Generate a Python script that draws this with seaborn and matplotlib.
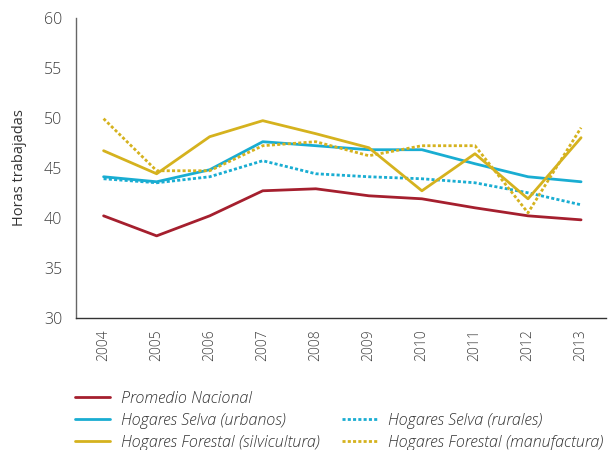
import matplotlib
matplotlib.use("Agg")
import matplotlib.pyplot as plt
from matplotlib.lines import Line2D
import seaborn as sns
import pandas as pd

years = ["2004", "2005", "2006", "2007", "2008", "2009", "2010", "2011", "2012", "2013"]
promedio_nacional = [40.2, 38.2, 40.2, 42.7, 42.9, 42.2, 41.9, 41.0, 40.2, 39.8]
selva_urbanos = [44.1, 43.6, 44.8, 47.6, 47.2, 46.8, 46.8, 45.4, 44.1, 43.6]
selva_rurales = [43.9, 43.5, 44.1, 45.7, 44.4, 44.1, 43.9, 43.5, 42.5, 41.3]
forestal_silvicultura = [46.7, 44.4, 48.1, 49.7, 48.4, 47.0, 42.7, 46.4, 41.9, 48.0]
forestal_manufactura = [49.9, 44.7, 44.7, 47.2, 47.6, 46.2, 47.2, 47.2, 40.5, 49.0]

labels = ["Promedio Nacional", "Hogares Selva (urbanos)", "Hogares Selva (rurales)",
          "Hogares Forestal (silvicultura)", "Hogares Forestal (manufactura)"]
series = [promedio_nacional, selva_urbanos, selva_rurales, forestal_silvicultura, forestal_manufactura]

RED = "#A51F2E"
BLUE = "#19ADD2"
GOLD = "#D5B21E"
colors = [RED, BLUE, BLUE, GOLD, GOLD]
dotted = (0, (1.1, 0.8))
styles = ["-", "-", dotted, "-", dotted]

sns.set_theme(style="white")
plt.rcParams["font.family"] = ["Open Sans", "DejaVu Sans"]
plt.rcParams["font.weight"] = 300

fig = plt.figure(figsize=(6.11, 4.5), dpi=100)
ax = fig.add_axes([76 / 611, 1 - 318 / 450, (606 - 76) / 611, (318 - 17.5) / 450])

x = list(range(len(years)))
for lab, vals, c, ls in zip(labels, series, colors, styles):
    df = pd.DataFrame({"x": x, "y": vals})
    sns.lineplot(data=df, x="x", y="y", ax=ax, color=c, linewidth=2.0, label=lab)
    ax.get_lines()[-1].set_linestyle(ls)

ax.set_xlim(-0.52, 9.47)
ax.set_ylim(30, 60)
ax.set_yticks([30, 35, 40, 45, 50, 55, 60])
ax.set_xticks(x)
ax.set_xticklabels(years, rotation=90)
ax.set_xlabel("")
ax.set_ylabel("Horas trabajadas", fontsize=10.5, color="#333333", labelpad=12)
ax.tick_params(axis="y", length=0, pad=10, labelsize=11.5, labelcolor="#3f3f3f")
ax.tick_params(axis="x", length=0, pad=8, labelsize=10, labelcolor="#3f3f3f")
for s in ["top", "right"]:
    ax.spines[s].set_visible(False)
ax.spines["left"].set_color("#666666")
ax.spines["left"].set_linewidth(1.0)
ax.spines["bottom"].set_color("#333333")
ax.spines["bottom"].set_linewidth(1.0)
ax.get_legend().remove()

lines = ax.get_lines()
blank = Line2D([], [], linestyle="none")
handles = [lines[0], lines[1], lines[3], blank, lines[2], lines[4]]
hlabels = [labels[0], labels[1], labels[3], "", labels[2], labels[4]]
leg = fig.legend(handles, hlabels, loc="upper left", bbox_to_anchor=(75 / 611, 1 - 391 / 450),
                 ncol=2, frameon=False, borderpad=0, borderaxespad=0,
                 handlelength=2.2, handletextpad=0.65, columnspacing=1.4,
                 labelspacing=0.36, prop={"size": 11.6, "style": "italic", "weight": 300})
for t in leg.get_texts():
    t.set_color("#333333")

fig.savefig("out.png", dpi=100)
